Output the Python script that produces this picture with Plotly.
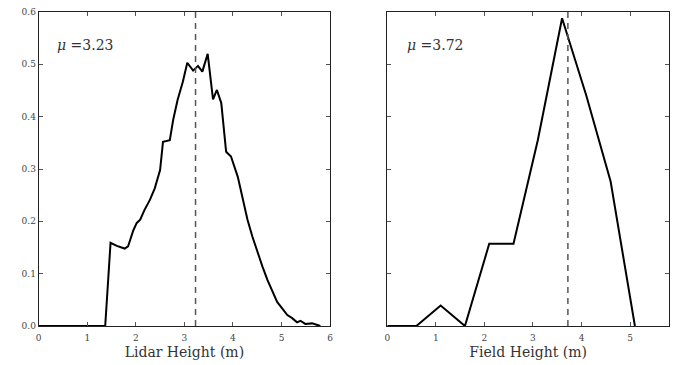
import plotly.graph_objects as go

# Lidar-derived height distribution (density per bin)
lidar_x = [0.0, 1.37, 1.48, 1.61, 1.77, 1.84, 1.95, 2.02, 2.09, 2.18, 2.29, 2.39, 2.50,
           2.56, 2.70, 2.77, 2.86, 2.97, 3.06, 3.18, 3.28, 3.37, 3.48, 3.59, 3.67, 3.76,
           3.86, 3.96, 4.10, 4.20, 4.30, 4.40, 4.50, 4.61, 4.71, 4.81, 4.91, 5.01, 5.12,
           5.22, 5.32, 5.39, 5.49, 5.63, 5.76, 5.80]
lidar_y = [0.0, 0.0, 0.159, 0.153, 0.148, 0.152, 0.183, 0.197, 0.203, 0.222, 0.241, 0.263,
           0.298, 0.352, 0.355, 0.394, 0.432, 0.467, 0.503, 0.488, 0.497, 0.486, 0.520,
           0.433, 0.451, 0.426, 0.333, 0.324, 0.285, 0.241, 0.203, 0.171, 0.142, 0.113,
           0.088, 0.066, 0.046, 0.034, 0.021, 0.015, 0.007, 0.010, 0.004, 0.005, 0.0, 0.0]
lidar_mean = 3.23

# Field-measured height distribution
field_x = [0.0, 0.6, 1.1, 1.6, 2.1, 2.6, 3.1, 3.6, 4.1, 4.6, 5.1]
field_y = [0.0, 0.0, 0.039, 0.0, 0.157, 0.157, 0.355, 0.588, 0.440, 0.276, 0.0]
field_mean = 3.72

y_ticks = [0.0, 0.1, 0.2, 0.3, 0.4, 0.5, 0.6]
y_tick_text = ["0.0", "0.1", "0.2", "0.3", "0.4", "0.5", "0.6"]

W, H = 673, 365
serif = "DejaVu Serif, Liberation Serif, serif"

fig = go.Figure()

fig.add_trace(go.Scatter(x=lidar_x, y=lidar_y, mode="lines",
                         line=dict(color="black", width=2), xaxis="x", yaxis="y"))
fig.add_trace(go.Scatter(x=[lidar_mean, lidar_mean], y=[0, 0.6], mode="lines",
                         line=dict(color="#555555", width=1.5, dash="6px,5px"),
                         xaxis="x", yaxis="y"))
fig.add_trace(go.Scatter(x=field_x, y=field_y, mode="lines",
                         line=dict(color="black", width=2), xaxis="x2", yaxis="y2"))
fig.add_trace(go.Scatter(x=[field_mean, field_mean], y=[0, 0.6], mode="lines",
                         line=dict(color="#555555", width=1.5, dash="6px,5px"),
                         xaxis="x2", yaxis="y2"))

axis_common = dict(
    showgrid=False, zeroline=False, showline=True, linecolor="#222222", linewidth=1,
    mirror="allticks", ticks="inside", ticklen=4, tickcolor="#555555",
    tickfont=dict(family=serif, size=9, color="#444444"),
)

title_font = dict(family=serif, size=14, color="#333333")

fig.update_layout(
    width=W, height=H, showlegend=False,
    paper_bgcolor="white", plot_bgcolor="white",
    margin=dict(l=0, r=0, t=12, b=39),
    xaxis=dict(axis_common, domain=[36 / W, 330 / W], range=[0, 6],
               tickvals=[0, 1, 2, 3, 4, 5, 6], ticklabelstandoff=3,
               title=dict(text="Lidar Height (m)", standoff=5, font=title_font)),
    yaxis=dict(axis_common, domain=[0, 1], range=[0, 0.6],
               tickvals=y_ticks, ticktext=y_tick_text, anchor="x"),
    xaxis2=dict(axis_common, domain=[387.7 / W, 672 / W], range=[0, (672 - 387.7) / 49],
                tickvals=[0, 1, 2, 3, 4, 5], anchor="y2", ticklabelstandoff=3,
                title=dict(text="Field Height (m)", standoff=5, font=title_font)),
    yaxis2=dict(axis_common, domain=[0, 1], range=[0, 0.6],
                tickvals=y_ticks, showticklabels=False, anchor="x2"),
    annotations=[
        dict(x=0.33, y=0.537, xref="x", yref="y", xanchor="left", yanchor="middle",
             text=f"<i>μ</i> ={lidar_mean}", showarrow=False,
             font=dict(family=serif, size=14, color="#333333")),
        dict(x=0.36, y=0.537, xref="x2", yref="y2", xanchor="left", yanchor="middle",
             text=f"<i>μ</i> ={field_mean}", showarrow=False,
             font=dict(family=serif, size=14, color="#333333")),
    ],
)

fig.write_html("out.html")
